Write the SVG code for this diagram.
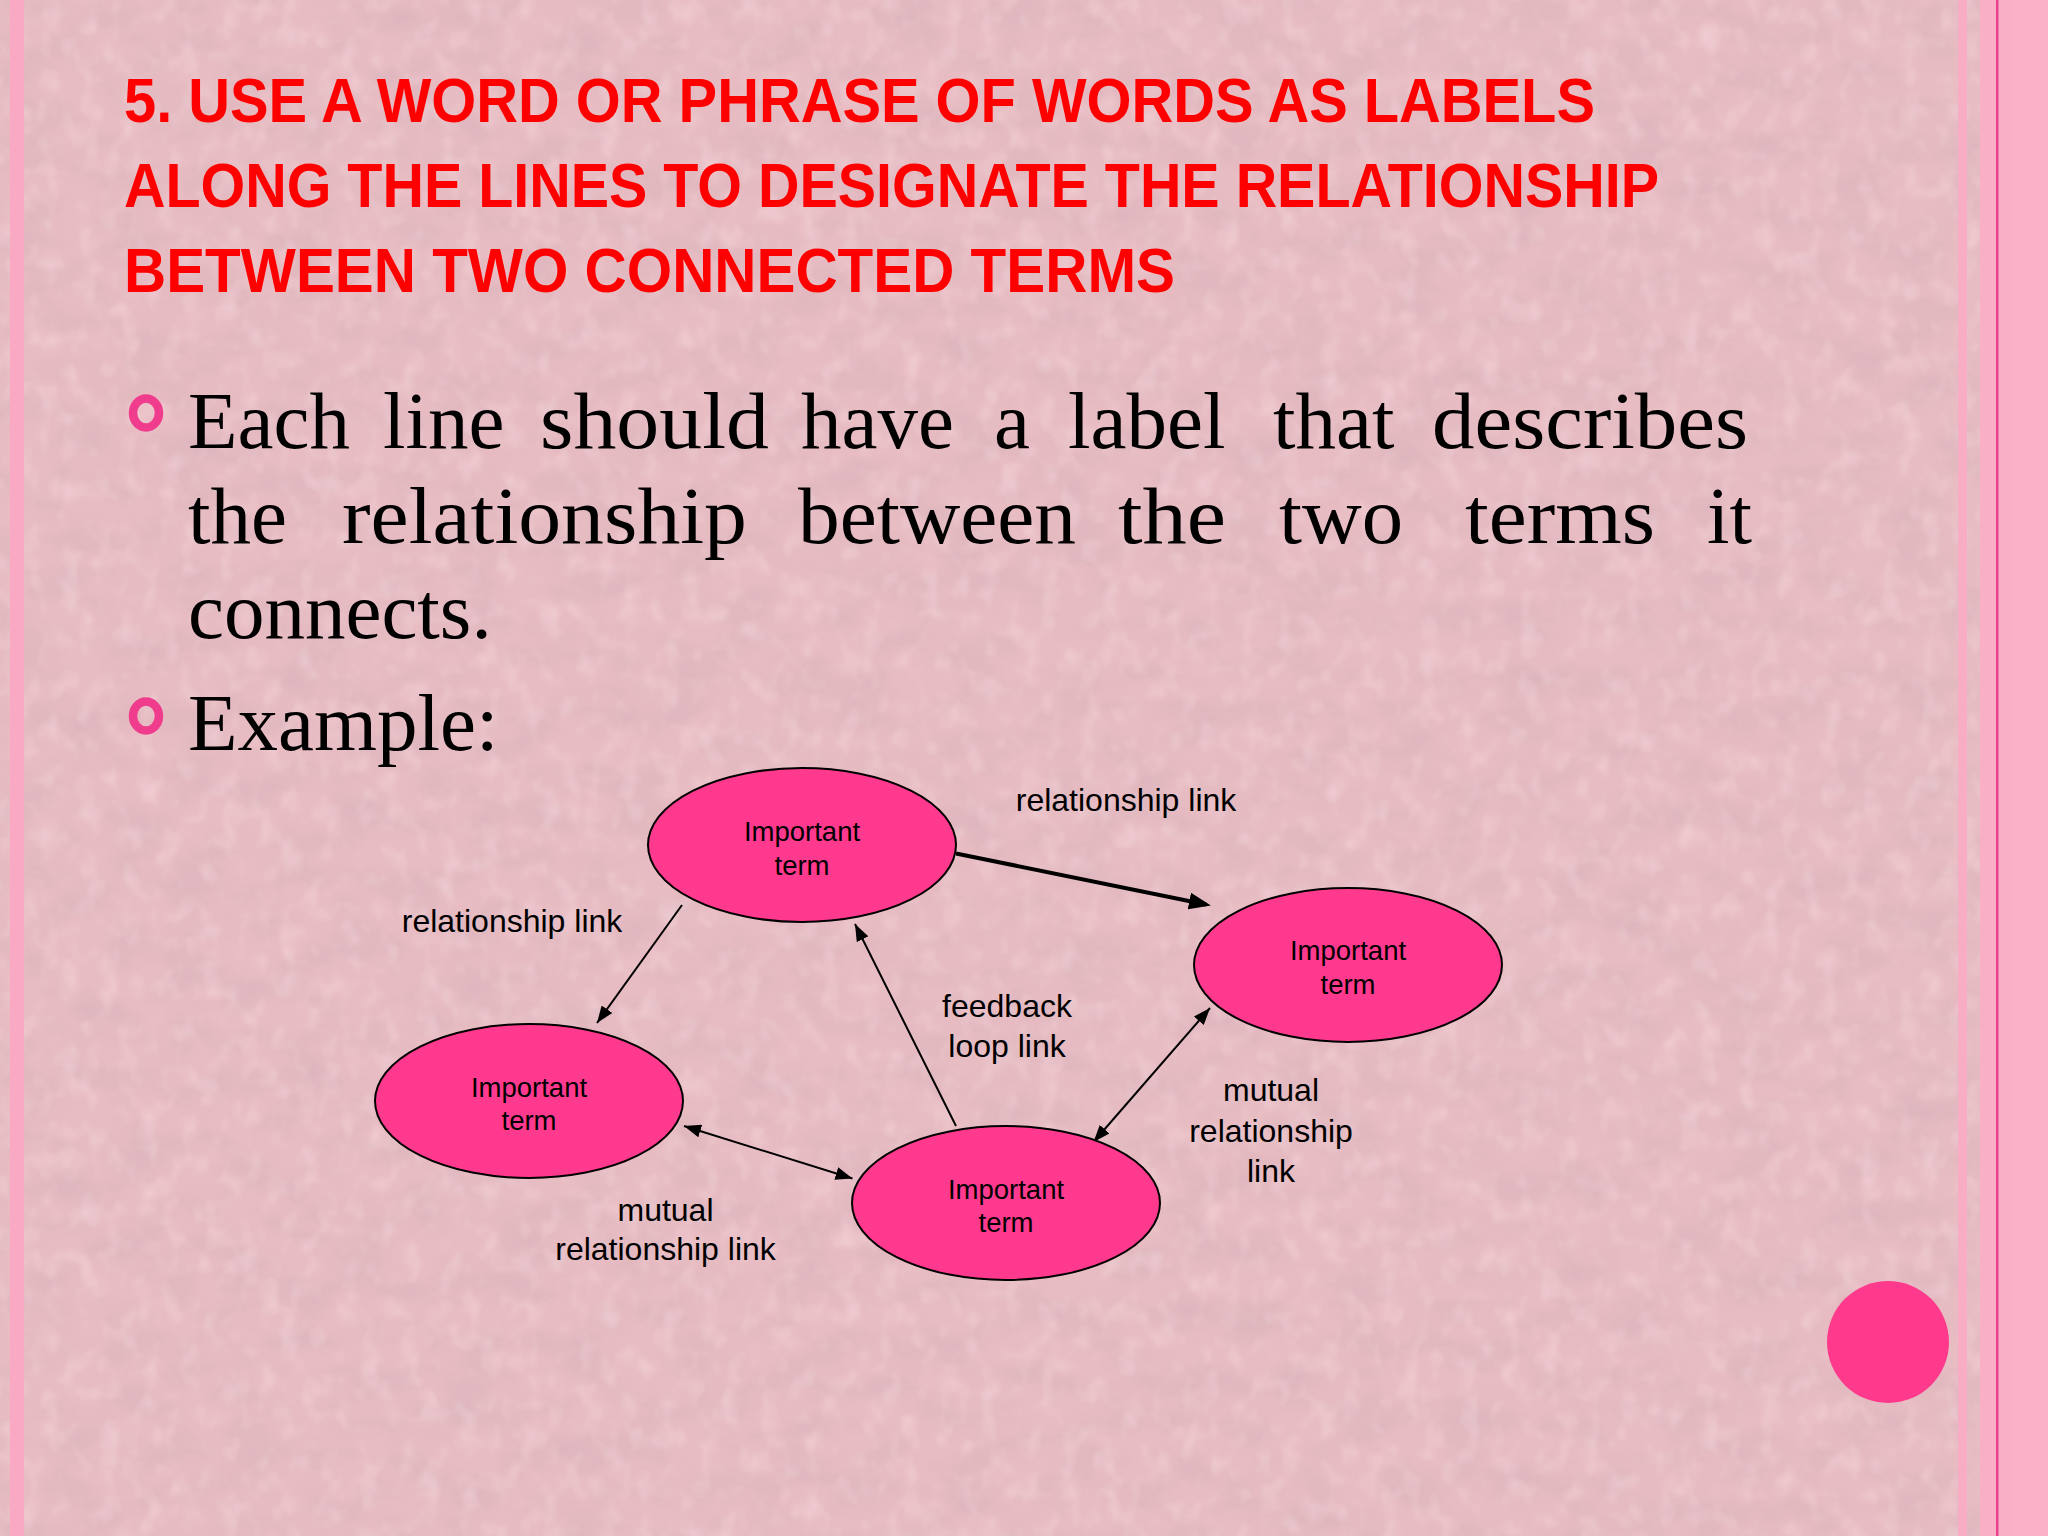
<svg xmlns="http://www.w3.org/2000/svg" width="2048" height="1536" viewBox="0 0 2048 1536">
  <defs>
    <style>
      .title { font-family: "Liberation Sans", Arial, sans-serif; font-weight: bold; font-size: 63px; fill: #FF0000; }
      .body { font-family: "Liberation Serif", "Times New Roman", serif; font-size: 81px; fill: #000000; }
      .node ellipse { fill: #FF3A8E; stroke: #000000; stroke-width: 2; }
      .node text { font-family: "Liberation Sans", Arial, sans-serif; font-size: 27.5px; text-anchor: middle; fill: #000000; }
      .lbl { font-family: "Liberation Sans", Arial, sans-serif; font-size: 32px; text-anchor: middle; fill: #000000; }
      .conn { stroke: #000000; stroke-width: 2; fill: none; }
      .conn.thick { stroke-width: 4; }
      .bullet { fill: none; stroke: #F03C8C; stroke-width: 8.5; }
    </style>
    <filter id="tex" x="0" y="0" width="100%" height="100%" filterUnits="userSpaceOnUse">
      <feTurbulence type="fractalNoise" baseFrequency="0.018 0.03" numOctaves="4" seed="7" result="n"/>
      <feColorMatrix in="n" type="matrix" values="0 0 0 0 0.62  0 0 0 0 0.42  0 0 0 0 0.46  1.6 0 0 0 -0.62"/>
    </filter>
    <filter id="tex2" x="0" y="0" width="100%" height="100%" filterUnits="userSpaceOnUse">
      <feTurbulence type="fractalNoise" baseFrequency="0.05 0.04" numOctaves="2" seed="19" result="n"/>
      <feColorMatrix in="n" type="matrix" values="0 0 0 0 1  0 0 0 0 0.9  0 0 0 0 0.92  1.8 0 0 0 -0.85"/>
    </filter>
    <marker id="ah" markerUnits="userSpaceOnUse" markerWidth="17" markerHeight="13" viewBox="0 0 17 13" refX="17" refY="6.5" orient="auto-start-reverse">
      <path d="M0,0 L17,6.5 L0,13 z" fill="#000000"/>
    </marker>
    <marker id="ahThick" markerUnits="userSpaceOnUse" markerWidth="22" markerHeight="17" viewBox="0 0 22 17" refX="17" refY="8.5" orient="auto">
      <path d="M0,0 L22,8.5 L0,17 z" fill="#000000"/>
    </marker>
  </defs>

  <!-- background -->
  <rect x="0" y="0" width="2048" height="1536" fill="#E8BCC3"/>
  <rect x="0" y="0" width="2048" height="1536" filter="url(#tex)" opacity="0.5"/>
  <rect x="0" y="0" width="2048" height="1536" filter="url(#tex2)" opacity="0.35"/>

  <!-- side stripes -->
  <rect x="10" y="0" width="14" height="1536" fill="#F9A9C4"/>
  <rect x="1958" y="0" width="9" height="1536" fill="#F8ADC4"/>
  <rect x="1980" y="0" width="68" height="1536" fill="#F9AFC6"/>
  <rect x="2012" y="0" width="36" height="1536" fill="#FBB2C8"/>
  <rect x="1996" y="0" width="2.5" height="1536" fill="#E9428F"/>

  <!-- title -->
  <g id="title">
    <text class="title" x="124" y="122" textLength="1471" lengthAdjust="spacingAndGlyphs">5. USE A WORD OR PHRASE OF WORDS AS LABELS</text>
    <text class="title" x="124" y="207" textLength="1535" lengthAdjust="spacingAndGlyphs">ALONG THE LINES TO DESIGNATE THE RELATIONSHIP</text>
    <text class="title" x="124" y="292" textLength="1051" lengthAdjust="spacingAndGlyphs">BETWEEN TWO CONNECTED TERMS</text>
  </g>

  <!-- body text -->
  <g id="body">
    <ellipse class="bullet" cx="146" cy="413" rx="13" ry="14.5"/>
    <ellipse class="bullet" cx="146" cy="716" rx="13" ry="14.5"/>
    <text class="body" y="448"><tspan x="188">Each</tspan> <tspan x="383">line</tspan> <tspan x="540" textLength="229" lengthAdjust="spacingAndGlyphs">should</tspan> <tspan x="801">have</tspan> <tspan x="994">a</tspan> <tspan x="1068">label</tspan> <tspan x="1273">that</tspan> <tspan x="1432" textLength="316" lengthAdjust="spacingAndGlyphs">describes</tspan></text>
    <text class="body" y="543"><tspan x="188">the</tspan> <tspan x="342" textLength="405" lengthAdjust="spacingAndGlyphs">relationship</tspan> <tspan x="798" textLength="278" lengthAdjust="spacingAndGlyphs">between</tspan> <tspan x="1118" textLength="108" lengthAdjust="spacingAndGlyphs">the</tspan> <tspan x="1279" textLength="124" lengthAdjust="spacingAndGlyphs">two</tspan> <tspan x="1465" textLength="190" lengthAdjust="spacingAndGlyphs">terms</tspan> <tspan x="1752" text-anchor="end">it</tspan></text>
    <text class="body" x="188" y="638">connects.</text>
    <text class="body" x="188" y="750">Example:</text>
  </g>

  <!-- connectors -->
  <g id="connectors">
    <line class="conn thick" x1="956" y1="853.5" x2="1206" y2="904.5" marker-end="url(#ahThick)"/>
    <line class="conn" x1="682" y1="905" x2="597" y2="1023" marker-end="url(#ah)"/>
    <line class="conn" x1="956" y1="1126" x2="855" y2="924" marker-end="url(#ah)"/>
    <line class="conn" x1="684" y1="1126" x2="852.5" y2="1178.5" marker-start="url(#ah)" marker-end="url(#ah)"/>
    <line class="conn" x1="1210" y1="1008" x2="1093.5" y2="1142" marker-start="url(#ah)" marker-end="url(#ah)"/>
  </g>

  <!-- connector labels -->
  <g id="labels">
    <text class="lbl" x="1126" y="811">relationship link</text>
    <text class="lbl" x="512" y="932">relationship link</text>
    <text class="lbl" x="1007" y="1017">feedback</text>
    <text class="lbl" x="1007" y="1057">loop link</text>
    <text class="lbl" x="1271" y="1101">mutual</text>
    <text class="lbl" x="1271" y="1142">relationship</text>
    <text class="lbl" x="1271" y="1182">link</text>
    <text class="lbl" x="665.5" y="1221">mutual</text>
    <text class="lbl" x="665.5" y="1260">relationship link</text>
  </g>

  <!-- nodes -->
  <g id="node-top" class="node">
    <ellipse cx="802" cy="845" rx="154" ry="77"/>
    <text x="802" y="841">Important</text>
    <text x="802" y="875">term</text>
  </g>
  <g id="node-right" class="node">
    <ellipse cx="1348" cy="965" rx="154" ry="77"/>
    <text x="1348" y="960">Important</text>
    <text x="1348" y="994">term</text>
  </g>
  <g id="node-left" class="node">
    <ellipse cx="529" cy="1101" rx="154" ry="77"/>
    <text x="529" y="1097">Important</text>
    <text x="529" y="1130">term</text>
  </g>
  <g id="node-bottom" class="node">
    <ellipse cx="1006" cy="1203" rx="154" ry="77"/>
    <text x="1006" y="1199">Important</text>
    <text x="1006" y="1232">term</text>
  </g>

  <!-- decorative circle -->
  <circle cx="1888" cy="1342" r="61" fill="#FF3A8C"/>
</svg>
